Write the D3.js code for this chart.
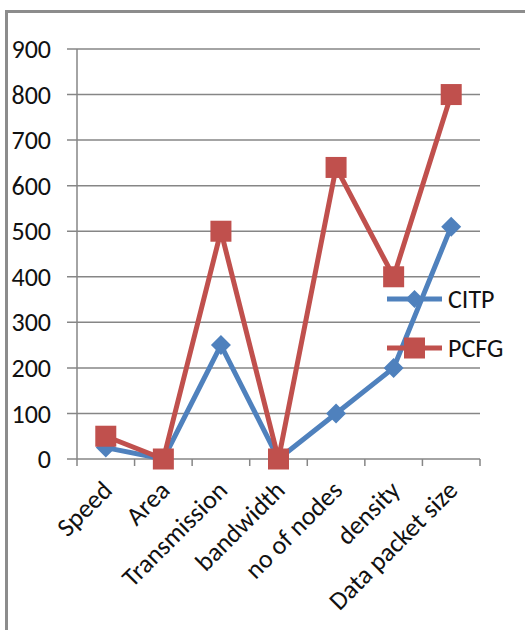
<!DOCTYPE html>
<html><head><meta charset="utf-8">
<script src="https://cdn.jsdelivr.net/npm/d3@7"></script>
<style>html,body{margin:0;padding:0;background:#fff;}svg{display:block;}</style>
</head><body>
<script>
const categories = ["Speed","Area","Transmission","bandwidth","no of nodes","density","Data packet size"];
const citp = [25, 0, 250, 0, 100, 200, 510];
const pcfg = [50, 0, 500, 0, 640, 400, 800];
const yTicks = [0,100,200,300,400,500,600,700,800,900];
const seriesNames = ["CITP","PCFG"];
const colors = ["#4F81BD","#C0504D"];

(function(){
const W = 525, H = 630;
const svg = d3.select("body").append("svg").attr("width", W).attr("height", H);
const font = "Carlito, 'Open Sans', sans-serif";
const fs = 26;

// outer frame
svg.append("path").attr("d","M6.5,630 L6.5,11.5 L525,11.5").attr("fill","none").attr("stroke","#8c8c8c").attr("stroke-width",3);

const pLeft = 77, pRight = 480, pTop = 49, pBottom = 459;
const x = d3.scaleBand().domain(categories).range([pLeft, pRight]).padding(0);
const y = d3.scaleLinear().domain([0, 900]).range([pBottom, pTop]);
const cx = c => x(c) + x.bandwidth()/2;

// gridlines
svg.append("g").selectAll("line").data(yTicks).join("line")
  .attr("x1", pLeft - 10).attr("x2", pRight)
  .attr("y1", d => y(d)).attr("y2", d => y(d))
  .attr("stroke", "#868686").attr("stroke-width", 1.5);

// y axis line
svg.append("line").attr("x1", pLeft).attr("x2", pLeft).attr("y1", pTop).attr("y2", pBottom)
  .attr("stroke","#868686").attr("stroke-width",1.5);

// y labels
svg.append("g").selectAll("text").data(yTicks).join("text")
  .attr("x", 51).attr("y", d => y(d)).attr("dy","0.35em")
  .attr("text-anchor","end").attr("font-family", font).attr("font-size", fs)
  .attr("fill","#111").text(d => d);

// x ticks
const xTickPos = categories.map(c => x(c)).concat([pRight]);
svg.append("g").selectAll("line").data(xTickPos).join("line")
  .attr("x1", d => d).attr("x2", d => d).attr("y1", pBottom).attr("y2", pBottom + 7)
  .attr("stroke","#868686").attr("stroke-width",1.5);

// x labels
svg.append("g").selectAll("text").data(categories).join("text")
  .attr("transform", c => `translate(${cx(c)-5},${pBottom+20}) rotate(-45)`)
  .attr("text-anchor","end").attr("dy","0.7em")
  .attr("font-family", font).attr("font-size", fs).attr("fill","#111").text(c => c);

const line = d3.line().x((d,i) => cx(categories[i])).y(d => y(d));
const diamond = s => `M0,${-s} L${s},0 L0,${s} L${-s},0 Z`;

// CITP
svg.append("path").datum(citp).attr("d", line).attr("fill","none")
  .attr("stroke", colors[0]).attr("stroke-width", 5).attr("stroke-linejoin","round");
svg.append("g").selectAll("path").data(citp).join("path")
  .attr("transform",(d,i)=>`translate(${cx(categories[i])},${y(d)})`)
  .attr("d", diamond(10)).attr("fill", colors[0]);

// PCFG
svg.append("path").datum(pcfg).attr("d", line).attr("fill","none")
  .attr("stroke", colors[1]).attr("stroke-width", 5).attr("stroke-linejoin","round");
svg.append("g").selectAll("rect").data(pcfg).join("rect")
  .attr("x",(d,i)=>cx(categories[i])-10.5).attr("y", d => y(d)-10.5)
  .attr("width",21).attr("height",21).attr("fill", colors[1]);

// legend
const lg = svg.append("g");
const legY = [299, 348];
seriesNames.forEach((n,i) => {
  lg.append("line").attr("x1",387).attr("x2",442).attr("y1",legY[i]).attr("y2",legY[i])
    .attr("stroke",colors[i]).attr("stroke-width",5);
  if (i===0) lg.append("path").attr("transform",`translate(414.5,${legY[i]})`).attr("d",diamond(9)).attr("fill",colors[i]);
  else lg.append("rect").attr("x",404).attr("y",legY[i]-10.5).attr("width",21).attr("height",21).attr("fill",colors[i]);
  lg.append("text").attr("x",448).attr("y",legY[i]).attr("dy","0.35em")
    .attr("font-family",font).attr("font-size",fs).attr("fill","#111").text(n);
});
})();
</script>
</body></html>
